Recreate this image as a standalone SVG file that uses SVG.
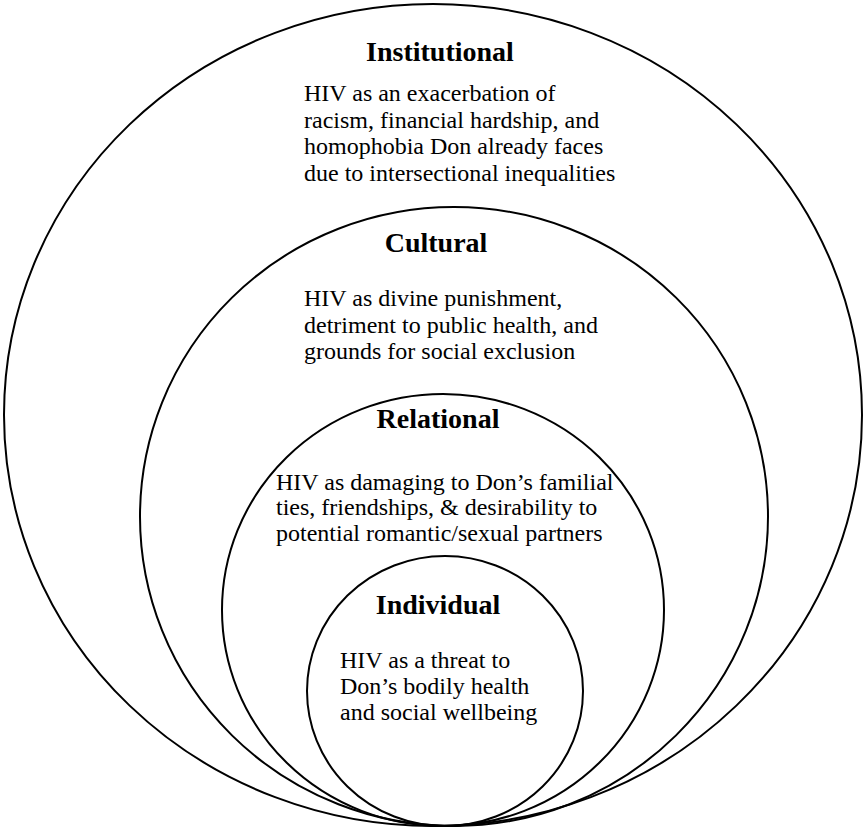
<svg xmlns="http://www.w3.org/2000/svg" width="863" height="829" viewBox="0 0 863 829">
<style>
.ring{fill:none;stroke:#000;stroke-width:2}
.title{font-family:"Liberation Serif","Times New Roman",serif;font-weight:bold;font-size:28px;fill:#000;text-anchor:middle}
.body{font-family:"Liberation Serif","Times New Roman",serif;font-size:24px;fill:#000}
</style>
<rect width="863" height="829" fill="#fff"/>
<g id="institutional">
<ellipse class="ring" cx="433" cy="415" rx="429" ry="411"/>
<text class="title" x="440" y="61">Institutional</text>
<text class="body" x="304" y="101">HIV as an exacerbation of</text>
<text class="body" x="304" y="127.5">racism, financial hardship, and</text>
<text class="body" x="304" y="154">homophobia Don already faces</text>
<text class="body" x="304" y="180.5">due to intersectional inequalities</text>
</g>
<g id="cultural">
<ellipse class="ring" cx="454" cy="516.5" rx="314" ry="309.5"/>
<text class="title" x="436" y="252">Cultural</text>
<text class="body" x="304" y="306">HIV as divine punishment,</text>
<text class="body" x="304" y="332.5">detriment to public health, and</text>
<text class="body" x="304" y="359">grounds for social exclusion</text>
</g>
<g id="relational">
<ellipse class="ring" cx="443" cy="610" rx="221" ry="216"/>
<text class="title" x="438" y="428">Relational</text>
<text class="body" x="276" y="489.5">HIV as damaging to Don’s familial</text>
<text class="body" x="276" y="515">ties, friendships, &amp; desirability to</text>
<text class="body" x="276" y="541">potential romantic/sexual partners</text>
</g>
<g id="individual">
<ellipse class="ring" cx="445" cy="691" rx="138" ry="135"/>
<text class="title" x="438" y="614">Individual</text>
<text class="body" x="340" y="668">HIV as a threat to</text>
<text class="body" x="340" y="694">Don’s bodily health</text>
<text class="body" x="340" y="720">and social wellbeing</text>
</g>
<g id="connectors"/>
</svg>
